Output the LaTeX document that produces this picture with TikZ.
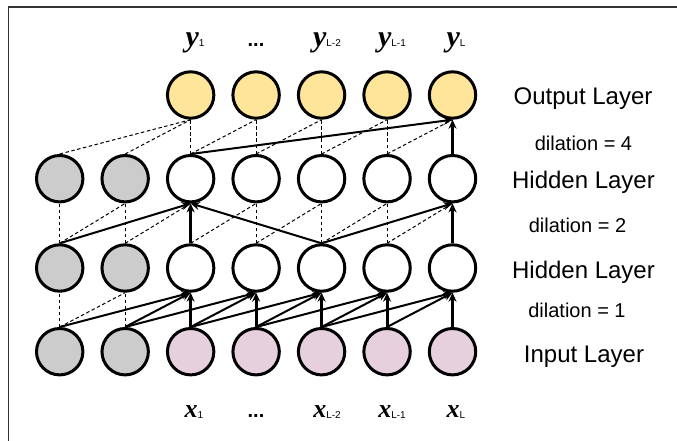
\documentclass[tikz,border=0pt]{standalone}
\usepackage{fontspec}
\setmainfont{Liberation Sans}
\newfontfamily\serifbi{Liberation Serif}[BoldItalicFont={* Bold Italic}]
\usetikzlibrary{arrows.meta}
\definecolor{padgray}{HTML}{CCCCCC}
\definecolor{outyellow}{HTML}{FFE599}
\definecolor{inpink}{HTML}{E6D0DE}
\definecolor{framegray}{HTML}{333333}
\tikzset{
  unit/.style={circle, draw=black, line width=3pt, minimum size=46.4pt, inner sep=0pt},
  padunit/.style={unit, fill=padgray},
  hidunit/.style={unit, fill=white},
  inunit/.style={unit, fill=inpink},
  outunit/.style={unit, fill=outyellow},
  link/.style={line width=1pt, dash pattern=on 3.5pt off 2.5pt},
  conn/.style={line width=2pt, -{Stealth[length=9pt, width=8pt]}},
  vconn/.style={line width=3pt, -{Stealth[length=9pt, width=8pt]}},
  layertext/.style={anchor=base, inner sep=0pt, font=\fontsize{24}{28}\selectfont},
  diltext/.style={anchor=base, inner sep=0pt, font=\fontsize{20}{24}\selectfont},
  seqlabel/.style={anchor=base, inner sep=0pt},
}
\newcommand{\ylab}[1]{{\serifbi\bfseries\itshape\fontsize{30}{32}\selectfont y}{\fontsize{10}{12}\selectfont #1}}
\newcommand{\xlab}[1]{{\serifbi\bfseries\itshape\fontsize{26}{28}\selectfont x}\raisebox{-1.5pt}{\fontsize{10}{12}\selectfont #1}}
\newcommand{\seqdots}{{\bfseries\fontsize{20}{24}\selectfont ...}}
\begin{document}
\begin{tikzpicture}[x=1pt, y=-1pt]
\useasboundingbox (0,0) rectangle (677,441);
% frame
\draw[framegray, line width=1.4pt] (8.5,441) -- (8.5,7) -- (677,7);
% nodes
\foreach \i in {0,1}{
  \node[padunit] (in\i) at ({59.7+65.47*\i},351.7) {};
  \node[padunit] (ha\i) at ({59.7+65.47*\i},268) {};
  \node[padunit] (hb\i) at ({59.7+65.47*\i},178.7) {};
}
\foreach \i in {2,...,6}{
  \node[inunit] (in\i) at ({59.7+65.47*\i},351.7) {};
  \node[hidunit] (ha\i) at ({59.7+65.47*\i},268) {};
  \node[hidunit] (hb\i) at ({59.7+65.47*\i},178.7) {};
  \node[outunit] (out\i) at ({59.7+65.47*\i},95) {};
}
% input -> hidden 1 (dilation 1)
\draw[link] (in0.north) -- (ha0.south);
\draw[link] (in1.north) -- (ha1.south);
\draw[link] (in0.north) -- (ha1.south);
\foreach \a/\b in {0/2,1/2,1/3,2/3,2/4,3/4,3/5,4/5,4/6,5/6}{
  \draw[conn] (in\a.north) -- (ha\b.south);
}
\foreach \a in {2,...,6}{
  \draw[vconn] (in\a.north) -- (ha\a.south);
}
% hidden 1 -> hidden 2 (dilation 2)
\foreach \a in {0,1,3,4,5}{
  \draw[link] (ha\a.north) -- (hb\a.south);
}
\foreach \a/\b in {0/1,1/2,2/3,3/4,4/5,5/6}{
  \draw[link] (ha\a.north) -- (hb\b.south);
}
\foreach \a/\b in {0/2,4/2,4/6}{
  \draw[conn] (ha\a.north) -- (hb\b.south);
}
\draw[vconn] (ha2.north) -- (hb2.south);
\draw[vconn] (ha6.north) -- (hb6.south);
% hidden 2 -> output (dilation 4)
\foreach \a in {2,3,4,5}{
  \draw[link] (hb\a.north) -- (out\a.south);
}
\foreach \a/\b in {0/2,1/2,2/3,3/4,4/5,5/6}{
  \draw[link] (hb\a.north) -- (out\b.south);
}
\draw[conn] (hb2.north) -- (out6.south);
\draw[vconn] (hb6.north) -- (out6.south);
% output labels
\node[seqlabel] (y1) at (195,46.5) {\ylab{1}};
\node[seqlabel] (ydots) at (256,47) {\seqdots};
\node[seqlabel] (y2) at (327,46.5) {\ylab{L-2}};
\node[seqlabel] (y3) at (392,46.5) {\ylab{L-1}};
\node[seqlabel] (y4) at (456,46.5) {\ylab{L}};
% input labels
\node[seqlabel] (x1) at (194,417) {\xlab{1}};
\node[seqlabel] (xdots) at (256,417) {\seqdots};
\node[seqlabel] (x2) at (327,417) {\xlab{L-2}};
\node[seqlabel] (x3) at (392,417) {\xlab{L-1}};
\node[seqlabel] (x4) at (456,417) {\xlab{L}};
% layer texts
\node[layertext] (lout) at (583,105) {Output Layer};
\node[diltext] (d4) at (583.5,150) {dilation = 4};
\node[layertext] (lh2) at (583.5,188) {Hidden Layer};
\node[diltext] (d2) at (577.5,232) {dilation = 2};
\node[layertext] (lh1) at (583.5,278) {Hidden Layer};
\node[diltext] (d1) at (577,317) {dilation = 1};
\node[layertext] (lin) at (584,362) {Input Layer};
\end{tikzpicture}
\end{document}
